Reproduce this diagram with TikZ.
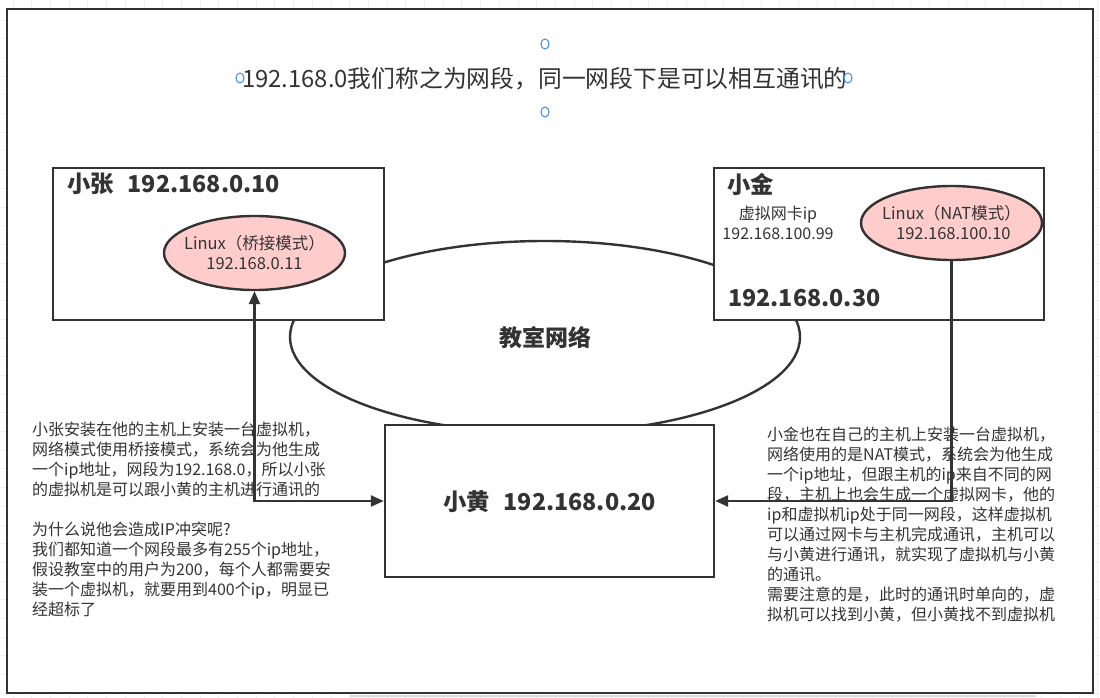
\documentclass[tikz,border=0pt]{standalone}
\usepackage{fontspec}
\setmainfont{Noto Sans CJK SC}
\usetikzlibrary{shapes.geometric,arrows.meta}
\definecolor{ink}{HTML}{333333}
\definecolor{pinkfill}{HTML}{FFCCCC}
\definecolor{handle}{HTML}{3D8BF0}
\definecolor{gridc}{HTML}{F1F1F1}
\tikzset{
  hostbox/.style={draw=ink, line width=2.4pt, fill=white, minimum width=#1, minimum height=152pt, inner sep=0pt},
  vmell/.style={ellipse, draw=ink, line width=2.4pt, fill=pinkfill, minimum width=181pt, minimum height=74pt, inner sep=0pt},
  vmtext/.style={align=center, text=ink, font=\fontsize{16.5}{20}\selectfont, inner sep=0pt},
  netell/.style={ellipse, draw=ink, line width=2.4pt, fill=white, minimum width=510pt, minimum height=192pt, inner sep=0pt},
  boldlbl/.style={text=ink, font=\fontsize{23.3}{27}\selectfont\bfseries, inner sep=0pt},
  smalllbl/.style={text=ink, font=\fontsize{16}{20}\selectfont, inner sep=0pt, align=center},
  para/.style={text=ink, font=\fontsize{16}{20}\selectfont, inner sep=0pt, align=left, anchor=north west},
  conn/.style={draw=ink, line width=2.4pt},
  tip/.tip={Triangle[length=13pt,width=11pt]},
  selhandle/.style={ellipse, draw=handle, line width=1pt, fill=white, minimum width=8pt, minimum height=10pt, inner sep=0pt}
}
\begin{document}
\begin{tikzpicture}[x=1pt,y=-1pt]
\useasboundingbox (0,0) rectangle (1100,698);
% background grid
\fill[white] (0,0) rectangle (1100,698);
\foreach \gx in {13,31.7,...,1100} \draw[gridc, line width=0.8pt] (\gx,0) -- (\gx,698);
\foreach \gy in {20,38.7,...,698} \draw[gridc, line width=0.8pt] (0,\gy) -- (1100,\gy);
% frame
\node[draw=ink, line width=2.6pt, fill=white, minimum width=1086pt, minimum height=684pt, inner sep=0pt] (frame) at (550,351) {};
\fill[gridc!80!gray] (350,695) rectangle (1036,697);
% title
\node[text=ink, font=\fontsize{23.8}{28}\selectfont, inner sep=0pt] (title) at (545,79) {192.168.0我们称之为网段，同一网段下是可以相互通讯的};
\node[selhandle] (h1) at (545,44) {};
\node[selhandle] (h2) at (545,112) {};
\node[selhandle] (h3) at (240,78) {};
\node[selhandle] (h4) at (848,78) {};
% classroom network
\node[netell] (net) at (545,337) {};
\node[boldlbl, font=\fontsize{23}{27}\selectfont\bfseries] (netlbl) at (545,338) {教室网络};
% hosts
\node[hostbox=331pt] (zhang) at (218.5,244) {};
\node[boldlbl, anchor=west] (zhanglbl) at (67,184) {小张\hspace{0.6em}192.168.0.10};
\node[vmell] (vm1) at (254.5,253) {};
\node[vmtext] (vm1lbl) at (vm1.center) {Linux（桥接模式）\\192.168.0.11};

\node[hostbox=330pt] (jin) at (879,244) {};
\node[boldlbl, anchor=west] (jinlbl) at (727,184) {小金};
\node[smalllbl] (nic) at (778,223) {虚拟网卡ip\\192.168.100.99};
\node[boldlbl, anchor=west] (jinip) at (728,298) {192.168.0.30};
\node[vmell] (vm2) at (951.5,223) {};
\node[vmtext] (vm2lbl) at (vm2.center) {Linux（NAT模式）\\\ 192.168.100.10};

\node[hostbox=329pt] (huang) at (549.5,501) {};
\node[boldlbl] (huanglbl) at (549.5,502) {小黄\hspace{0.6em}192.168.0.20};
% connectors
\draw[conn, tip-tip] (vm1.south) |- (huang.west);
\draw[conn, -tip] (vm2.south) |- (huang.east);
% paragraphs
\node[para] (ltext) at (32,422) {小张安装在他的主机上安装一台虚拟机，\\
网络模式使用桥接模式，系统会为他生成\\
一个ip地址，网段为192.168.0，所以小张\\
的虚拟机是可以跟小黄的主机进行通讯的\\[20pt]
为什么说他会造成IP冲突呢?\\
我们都知道一个网段最多有255个ip地址，\\
假设教室中的用户为200，每个人都需要安\\
装一个虚拟机，就要用到400个ip，明显已\\
经超标了};
\node[para] (rtext) at (767,427) {小金也在自己的主机上安装一台虚拟机，\\
网络使用的是NAT模式，系统会为他生成\\
一个ip地址，但跟主机的ip来自不同的网\\
段，主机上也会生成一个虚拟网卡，他的\\
ip和虚拟机ip处于同一网段，这样虚拟机\\
可以通过网卡与主机完成通讯，主机可以\\
与小黄进行通讯，就实现了虚拟机与小黄\\
的通讯。\\
需要注意的是，此时的通讯时单向的，虚\\
拟机可以找到小黄，但小黄找不到虚拟机};
\end{tikzpicture}
\end{document}
